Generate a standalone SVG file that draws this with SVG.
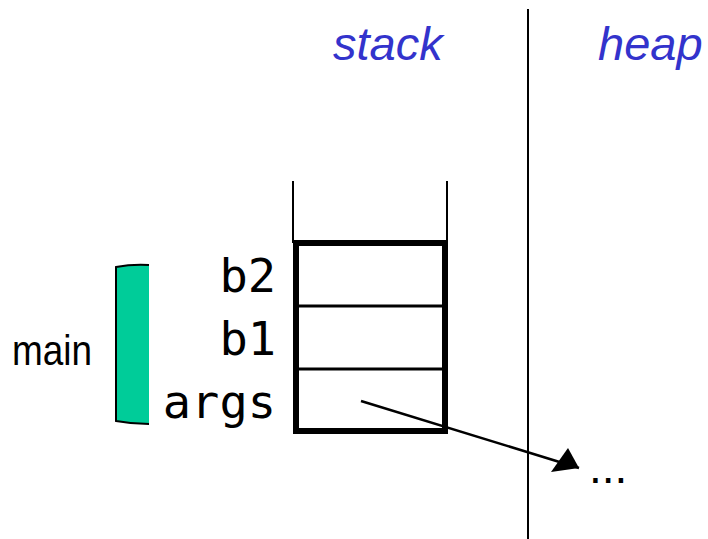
<svg xmlns="http://www.w3.org/2000/svg" width="708" height="539" viewBox="0 0 708 539">
<defs>
<style>
.lbl{font-family:"Liberation Sans",Arial,sans-serif;font-style:italic;fill:#3333CC;font-size:47px}
.var{font-family:"DejaVu Sans Mono",monospace;font-size:47px;fill:#000;text-anchor:end}
.thin{stroke:#000;stroke-width:2;fill:none}
.thick{stroke:#000;stroke-width:6;fill:none}
.mid{stroke:#000;stroke-width:3;fill:none}
</style>
</defs>
<rect width="708" height="539" fill="#fff"/>
<g id="titles">
<text class="lbl" x="333" y="60">stack</text>
<text class="lbl" x="598" y="60">heap</text>
</g>
<g id="divider">
<line class="thin" x1="528" y1="9" x2="528" y2="539"/>
</g>
<g id="stack">
<line class="thin" x1="293" y1="181" x2="293" y2="243"/>
<line class="thin" x1="447" y1="181" x2="447" y2="243"/>
<rect class="thick" x="296" y="243" width="149" height="188"/>
<line class="mid" x1="296" y1="306" x2="445" y2="306"/>
<line class="mid" x1="296" y1="369" x2="445" y2="369"/>
</g>
<g id="frame-main">
<path d="M149,265 Q132,264 116,267 L116,421 Q132,424 149,424 Z" fill="#00CC99"/>
<path d="M149,265 Q132,264 116,267 L116,421 Q132,424 149,424" fill="none" stroke="#000" stroke-width="2"/>
<text x="12" y="365" font-family="'Liberation Sans',Arial,sans-serif" font-size="43" textLength="80" lengthAdjust="spacingAndGlyphs">main</text>
</g>
<g id="vars">
<text class="var" x="276" y="292">b2</text>
<text class="var" x="276" y="355">b1</text>
<text class="var" x="276" y="418">args</text>
</g>
<g id="connectors">
<line x1="361" y1="401" x2="579" y2="468" stroke="#000" stroke-width="2.5"/>
<path d="M579,468 L551,472 L568,448 Z" fill="#000"/>
</g>
<g id="heap-obj">
<text x="589" y="483" font-family="'Liberation Sans',Arial,sans-serif" font-size="46">...</text>
</g>
</svg>
